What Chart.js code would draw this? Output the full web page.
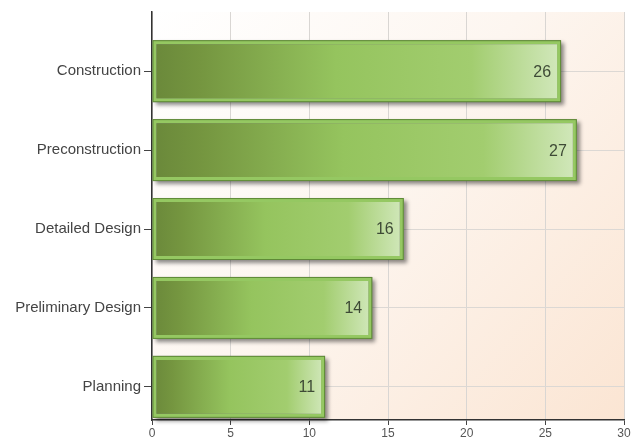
<!DOCTYPE html>
<html>
<head>
<meta charset="utf-8">
<script src="https://cdn.jsdelivr.net/npm/chart.js@4/dist/chart.umd.min.js"></script>
<style>
  html, body { margin: 0; padding: 0; background: #fff; }
</style>
</head>
<body>
<canvas id="chart" width="638" height="441"></canvas>
<script>
// chart data
const categories = ['Construction', 'Preconstruction', 'Detailed Design', 'Preliminary Design', 'Planning'];
const values = [26, 27, 16, 14, 11];
const xMin = 0;
const xMax = 30;
const xStep = 5;

// bars sit on a numeric index axis so the first row can start lower than the top edge
const rowPos = categories.map((c, i) => categories.length - 1 - i);
const points = values.map((v, i) => ({ x: v, y: rowPos[i] }));

function barFill(context) {
  const chart = context.chart;
  const area = chart.chartArea;
  if (!area) return '#95c55f';
  const xs = chart.scales.x;
  const x0 = xs.getPixelForValue(0);
  const x1 = xs.getPixelForValue(context.raw.x);
  const g = chart.ctx.createLinearGradient(x0, 0, x1, 0);
  g.addColorStop(0, '#6a883a');
  g.addColorStop(0.12, '#759640');
  g.addColorStop(0.45, '#95c45e');
  g.addColorStop(0.78, '#a2cd6f');
  g.addColorStop(1, '#d2e8bc');
  return g;
}

const plotBg = {
  id: 'plotBg',
  beforeDraw(chart) {
    const { ctx, chartArea: a } = chart;
    const g = ctx.createLinearGradient(a.left, a.top, a.right, a.bottom);
    g.addColorStop(0, '#ffffff');
    g.addColorStop(0.45, '#fdf6f0');
    g.addColorStop(1, '#fbe5d3');
    ctx.save();
    ctx.fillStyle = g;
    ctx.fillRect(a.left, a.top, a.right - a.left, a.bottom - a.top);
    ctx.restore();
  }
};

const barDecor = {
  id: 'barDecor',
  beforeDatasetsDraw(chart) {
    const ctx = chart.ctx;
    chart.getDatasetMeta(0).data.forEach(bar => {
      const p = bar.getProps(['x', 'y', 'base', 'height'], true);
      ctx.save();
      ctx.shadowColor = 'rgba(0,0,0,0.45)';
      ctx.shadowBlur = 4;
      ctx.shadowOffsetX = 3;
      ctx.shadowOffsetY = 3;
      ctx.fillStyle = '#777';
      ctx.fillRect(p.base, p.y - p.height / 2, p.x - p.base, p.height);
      ctx.restore();
    });
  },
  afterDatasetsDraw(chart) {
    const ctx = chart.ctx;
    chart.getDatasetMeta(0).data.forEach((bar, i) => {
      const p = bar.getProps(['x', 'y', 'base', 'height'], true);
      ctx.save();
      ctx.strokeStyle = '#5f8a37';
      ctx.lineWidth = 1;
      ctx.strokeRect(p.base + 0.5, p.y - p.height / 2 + 0.5, p.x - p.base - 1, p.height - 1);
      ctx.fillStyle = '#3e4a36';
      ctx.font = '16px "Liberation Sans", Arial, sans-serif';
      ctx.textAlign = 'right';
      ctx.textBaseline = 'middle';
      ctx.fillText(values[i], p.x - 10, p.y + 1);
      ctx.restore();
    });
  }
};

const ctx = document.getElementById('chart').getContext('2d');
const myChart = new Chart(ctx, {
  type: 'bar',
  data: {
    datasets: [{
      data: points,
      backgroundColor: barFill,
      borderColor: '#95c862',
      borderWidth: 4,
      borderSkipped: false,
      barPercentage: 0.785,
      categoryPercentage: 1
    }]
  },
  options: {
    indexAxis: 'y',
    responsive: false,
    animation: false,
    layout: { padding: { top: 12, right: 14, left: 0, bottom: 0 } },
    plugins: {
      legend: { display: false },
      tooltip: { enabled: false }
    },
    scales: {
      x: {
        type: 'linear',
        min: xMin,
        max: xMax,
        ticks: {
          stepSize: xStep,
          color: '#555',
          font: { family: '"Liberation Sans", Arial, sans-serif', size: 12 },
          padding: 1,
          maxRotation: 0
        },
        grid: { color: '#d9d6d3', tickColor: '#444', tickLength: 5, lineWidth: 1 },
        border: { color: '#333', width: 1.5 },
        afterFit(axis) { axis.height = 21; }
      },
      y: {
        type: 'linear',
        offset: false,
        min: -0.42,
        max: 4.75,
        afterBuildTicks(axis) {
          axis.ticks = axis.ticks.filter(t => Number.isInteger(t.value));
        },
        ticks: {
          stepSize: 1,
          color: '#444',
          padding: 3,
          font: { family: '"Liberation Sans", Arial, sans-serif', size: 15 },
          callback: v => categories[categories.length - 1 - v]
        },
        grid: { offset: false, color: '#dcd8d4', tickColor: '#444', tickLength: 8, lineWidth: 1 },
        border: { color: '#333', width: 1.5 },
        afterFit(axis) { axis.width = 152; }
      }
    }
  },
  plugins: [plotBg, barDecor]
});
</script>
</body>
</html>
